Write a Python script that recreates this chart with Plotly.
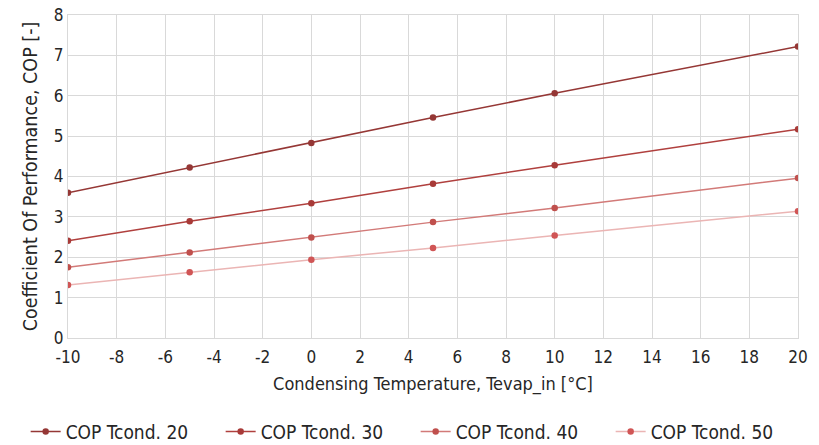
import plotly.graph_objects as go

x_temp = [-10, -5, 0, 5, 10, 20]
cop_20 = [3.60, 4.22, 4.83, 5.46, 6.06, 7.22]
cop_30 = [2.41, 2.89, 3.34, 3.82, 4.28, 5.17]
cop_40 = [1.75, 2.12, 2.49, 2.87, 3.22, 3.96]
cop_50 = [1.31, 1.63, 1.94, 2.23, 2.54, 3.14]
names = ["COP Tcond. 20", "COP Tcond. 30", "COP Tcond. 40", "COP Tcond. 50"]
series = [cop_20, cop_30, cop_40, cop_50]
x_ticks = [-10, -8, -6, -4, -2, 0, 2, 4, 6, 8, 10, 12, 14, 16, 18, 20]
x_tick_labels = [str(v) for v in x_ticks]
line_colors = ["#953735", "#B0403E", "#D27A78", "#EBB5B4"]
marker_colors = ["#953735", "#A83A38", "#C0504D", "#D05555"]

font = "DejaVu Sans Condensed, Liberation Sans, Arial, sans-serif"

fig = go.Figure()
for n, ys, lc, mc in zip(names, series, line_colors, marker_colors):
    fig.add_trace(go.Scatter(x=x_temp, y=ys, name=n, mode="lines+markers",
                             line=dict(color=lc, width=1.5),
                             marker=dict(color=mc, size=6.5)))

fig.update_layout(
    width=819, height=445,
    margin=dict(l=60, r=29, t=7, b=115, autoexpand=False),
    paper_bgcolor="white", plot_bgcolor="white",
    font=dict(family=font, size=17, color="#262626"),
    showlegend=True,
    legend=dict(orientation="h", x=-0.058, xanchor="left", y=-0.29, yanchor="middle",
                entrywidth=150, entrywidthmode="pixels", itemwidth=30,
                font=dict(size=19), tracegroupgap=0),
    xaxis=dict(range=[-10, 20], tickvals=x_ticks, ticktext=x_tick_labels,
               showgrid=True, gridcolor="#D9D9D9", ticklabeloverflow="allow",
               ticklabelstandoff=4,
               zeroline=False, showline=True, linecolor="#D9D9D9", mirror=True,
               ticks="", title=dict(text="Condensing Temperature, Tevap_in [°C]", standoff=10,
                                    font=dict(size=18))),
    yaxis=dict(range=[0, 8], dtick=1, showgrid=True, gridcolor="#D9D9D9",
               ticklabeloverflow="allow",
               zeroline=False, showline=True, linecolor="#D9D9D9", mirror=True,
               ticks="", title=dict(text="Coefficient Of Performance, COP [-]", standoff=11,
                                    font=dict(size=19.5))),
)

fig.write_html("out.html")
